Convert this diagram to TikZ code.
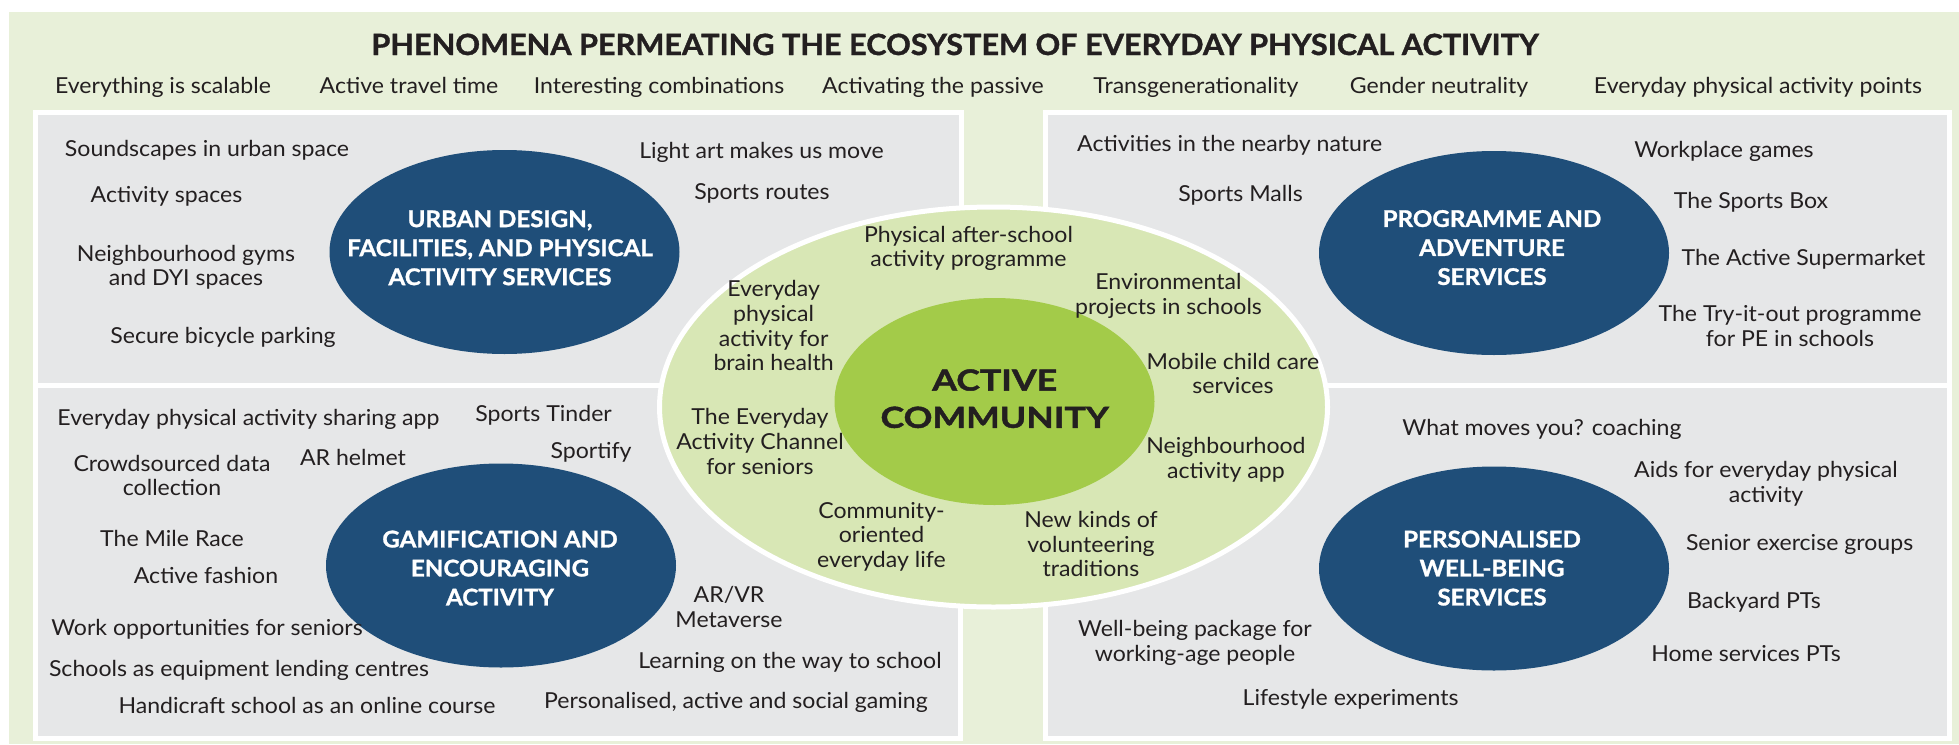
\documentclass[tikz,border=0pt]{standalone}
\usepackage{fontspec}
\setmainfont{Lato}[FakeStretch=1.05]
\newfontfamily\heavyfont{Lato}[FakeStretch=1.05, BoldFeatures={FakeBold=1.2}]
\newfontfamily\widefont{Lato}[FakeStretch=1.23, BoldFeatures={FakeBold=1.5}]
\usetikzlibrary{shapes.geometric}

\definecolor{bggreen}{HTML}{E8F0D9}
\definecolor{panelgray}{HTML}{E6E7E8}
\definecolor{ringgreen}{HTML}{D8E7B5}
\definecolor{coregreen}{HTML}{A3CB49}
\definecolor{hubblue}{HTML}{1F4E79}
\definecolor{ink}{HTML}{231F20}

\begin{document}
\begin{tikzpicture}[x=1pt,y=-1pt,
  item/.style={text=ink, font=\fontsize{22}{24.7}\selectfont, inner sep=0pt, align=center},
  theme/.style={item, anchor=base},
  hub/.style={ellipse, fill=hubblue, inner sep=0pt, minimum width=350pt, minimum height=204pt},
  hubtext/.style={text=white, font=\heavyfont\bfseries\fontsize{23}{29}\selectfont, inner sep=0pt, align=center},
  panel/.style={fill=panelgray, draw=white, line width=5pt},
]
\useasboundingbox (0,0) rectangle (1959,744);
\fill[bggreen] (9.3,11.7) rectangle (1959,744);

% title and cross-cutting themes
\node[text=ink, font=\heavyfont\bfseries\fontsize{29.2}{31}\selectfont, inner sep=0pt, anchor=base] (title) at (955,55)
  {PHENOMENA PERMEATING THE ECOSYSTEM OF EVERYDAY PHYSICAL ACTIVITY};
\node[theme] (t1) at (163,93) {Everything is scalable};
\node[theme] (t2) at (409,93) {Active travel time};
\node[theme] (t3) at (659,93) {Interesting combinations};
\node[theme] (t4) at (933,93) {Activating the passive};
\node[theme] (t5) at (1196,93) {Transgenerationality};
\node[theme] (t6) at (1439,93) {Gender neutrality};
\node[theme] (t7) at (1758,93) {Everyday physical activity points};

% four service panels
\draw[panel] (35.2,112.5) rectangle (961.5,385.5);
\draw[panel] (35.2,385.5) rectangle (960.5,738.2);
\draw[panel] (1045,112.5) rectangle (1949.2,385.5);
\draw[panel] (1045,385.5) rectangle (1949.2,738.2);

% active community rings
\node[ellipse, fill=ringgreen, draw=white, line width=5pt, inner sep=0pt,
      minimum width=668pt, minimum height=400pt] (ring) at (993.5,407) {};
\node[ellipse, fill=coregreen, inner sep=0pt,
      minimum width=320pt, minimum height=207pt] (core) at (994.5,401.5) {};
\node[text=ink, font=\widefont\bfseries\fontsize{29}{37.3}\selectfont, inner sep=0pt, align=center]
  (coretitle) at (994.7,398.7) {ACTIVE\\COMMUNITY};

% service hubs
\node[hub] (urban) at (504.5,252) {};
\node[hubtext] (urbantitle) at (500,247.8) {URBAN DESIGN,\\FACILITIES, AND PHYSICAL\\ACTIVITY SERVICES};
\node[hub] (prog) at (1494,253) {};
\node[hubtext] (progtitle) at (1492,247.6) {PROGRAMME AND\\ADVENTURE\\SERVICES};
\node[hub] (game) at (501,565.5) {};
\node[hubtext] (gametitle) at (500,568.1) {GAMIFICATION AND\\ENCOURAGING\\ACTIVITY};
\node[hub] (pers) at (1494,568.5) {};
\node[hubtext] (perstitle) at (1492,568.1) {PERSONALISED\\WELL-BEING\\SERVICES};

% urban design items
\node[theme] (u1) at (207,156.7) {Soundscapes in urban space};
\node[theme] (u2) at (166.5,202.7) {Activity spaces};
\node[item] (u3) at (186,267.3) {Neighbourhood gyms\\and DYI spaces};
\node[theme] (u4) at (223,343) {Secure bicycle parking};
\node[theme] (u5) at (761.5,158) {Light art makes us move};
\node[theme] (u6) at (762,199) {Sports routes};

% programme items
\node[theme] (p1) at (1229.7,151.7) {Activities in the nearby nature};
\node[theme] (p2) at (1240.6,201.7) {Sports Malls};
\node[theme] (p3) at (1724,157.3) {Workplace games};
\node[theme] (p4) at (1751,208) {The Sports Box};
\node[theme] (p5) at (1803.5,265) {The Active Supermarket};
\node[item] (p6) at (1790,326.2) {The Try-it-out programme\\for PE in schools};

% gamification items
\node[theme] (g1) at (248.5,425) {Everyday physical activity sharing app};
\node[theme] (g2) at (543.6,421.7) {Sports Tinder};
\node[item] (g3) at (172,475.4) {Crowdsourced data\\collection};
\node[theme] (g4) at (353,465) {AR helmet};
\node[theme] (g5) at (591,458) {Sportify};
\node[theme] (g6) at (172,546.7) {The Mile Race};
\node[theme] (g7) at (206,583) {Active fashion};
\node[theme] (g8) at (207,635) {Work opportunities for seniors};
\node[theme] (g9) at (239,676.7) {Schools as equipment lending centres};
\node[theme] (g10) at (307,713) {Handicraft school as an online course};
\node[item] (g11) at (729,606.8) {AR/VR\\Metaverse};
\node[theme] (g12) at (790,668) {Learning on the way to school};
\node[theme] (g13) at (736,708) {Personalised, active and social gaming};

% well-being items
\node[theme] (w1) at (1542,435) {What moves you? coaching};
\node[item] (w2) at (1766,483.5) {Aids for everyday physical\\activity};
\node[theme] (w3) at (1799.6,550.7) {Senior exercise groups};
\node[theme] (w4) at (1754,608) {Backyard PTs};
\node[theme] (w5) at (1746,661.7) {Home services PTs};
\node[item] (w6) at (1195,642.6) {Well-being package for\\working-age people};
\node[theme] (w7) at (1350.6,705) {Lifestyle experiments};

% active community items
\node[item] (c1) at (968.5,248.5) {Physical after-school\\activity programme};
\node[item] (c2) at (1168.5,295.9) {Environmental\\projects in schools};
\node[item] (c3) at (773.6,325.7) {Everyday\\physical\\activity for\\brain health};
\node[item] (c4) at (1233,373.4) {Mobile child care\\services};
\node[item] (c5) at (760,441.5) {The Everyday\\Activity Channel\\for seniors};
\node[item] (c6) at (1226,459.6) {Neighbourhood\\activity app};
\node[item] (c7) at (881.5,536.8) {Community-\\oriented\\everyday life};
\node[item] (c8) at (1091,544) {New kinds of\\volunteering\\traditions};
\end{tikzpicture}
\end{document}
